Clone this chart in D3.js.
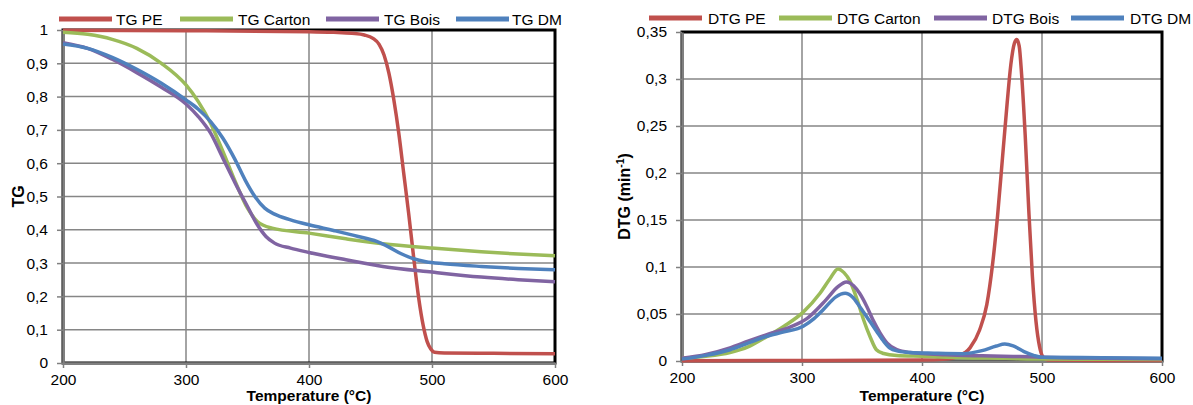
<!DOCTYPE html>
<html><head><meta charset="utf-8">
<script src="https://cdn.jsdelivr.net/npm/d3@7"></script>
<style>body{margin:0;background:#fff}svg{display:block}text{font-family:"Liberation Sans",Arial,sans-serif}</style>
</head><body><svg id="c" width="1193" height="405"></svg>
<script>
// ---- data ----
const tgPE = [[200,0.999],[300,0.998],[400,0.995],[420,0.993],[435,0.99],[445,0.985],[452,0.975],[457,0.957],[461,0.925],[465,0.87],[469,0.79],[473,0.69],[477,0.57],[481,0.45],[485,0.32],[489,0.20],[493,0.11],[496,0.065],[499,0.042],[502,0.032],[510,0.03],[550,0.029],[600,0.028]];
const tgCarton = [[200,0.993],[220,0.987],[240,0.972],[260,0.945],[280,0.90],[300,0.835],[310,0.785],[320,0.72],[330,0.635],[340,0.545],[350,0.465],[358,0.425],[370,0.405],[400,0.39],[430,0.373],[460,0.358],[500,0.345],[540,0.334],[570,0.327],[600,0.322]];
const tgBois = [[200,0.962],[220,0.945],[240,0.912],[260,0.872],[280,0.828],[300,0.778],[310,0.74],[320,0.69],[330,0.615],[340,0.54],[350,0.47],[358,0.415],[365,0.38],[372,0.36],[385,0.345],[400,0.332],[430,0.31],[460,0.29],[500,0.273],[540,0.258],[570,0.25],[600,0.244]];
const tgDM = [[200,0.958],[220,0.945],[240,0.918],[260,0.882],[280,0.84],[300,0.79],[310,0.762],[320,0.725],[330,0.675],[340,0.61],[348,0.55],[356,0.5],[364,0.465],[372,0.447],[385,0.43],[400,0.415],[420,0.398],[440,0.38],[455,0.365],[465,0.348],[475,0.328],[485,0.313],[495,0.304],[510,0.298],[540,0.29],[570,0.284],[600,0.28]];

const dtgPE = [[200,0.0003],[300,0.0005],[400,0.001],[420,0.002],[430,0.005],[440,0.014],[448,0.033],[454,0.06],[459,0.105],[463,0.155],[467,0.215],[471,0.275],[474,0.315],[477,0.338],[479,0.342],[481,0.335],[483,0.305],[486,0.24],[489,0.16],[492,0.09],[495,0.042],[498,0.015],[501,0.004],[505,0.001],[550,0.0005],[600,0.0005]];
const dtgCarton = [[200,0.003],[220,0.005],[240,0.009],[255,0.015],[268,0.024],[285,0.037],[301,0.052],[315,0.072],[323,0.087],[330,0.098],[335,0.094],[340,0.085],[346,0.065],[351,0.045],[357,0.025],[362,0.012],[368,0.008],[379,0.0058],[400,0.005],[434,0.0035],[470,0.0028],[500,0.002],[550,0.0018],[600,0.0015]];
const dtgBois = [[200,0.003],[220,0.007],[240,0.014],[255,0.021],[273,0.029],[290,0.036],[304,0.045],[320,0.065],[330,0.079],[337,0.084],[343,0.08],[348,0.072],[354,0.058],[359,0.044],[365,0.03],[371,0.019],[379,0.012],[390,0.009],[420,0.0066],[450,0.0055],[476,0.0048],[490,0.0045],[500,0.004],[550,0.003],[600,0.0025]];
const dtgDM = [[200,0.002],[220,0.006],[240,0.012],[255,0.019],[270,0.026],[285,0.031],[301,0.037],[310,0.045],[318,0.055],[328,0.068],[336,0.072],[342,0.068],[348,0.058],[355,0.045],[362,0.032],[368,0.021],[373,0.014],[380,0.0105],[390,0.009],[410,0.0083],[434,0.0078],[450,0.011],[462,0.016],[469,0.018],[476,0.016],[485,0.01],[493,0.006],[500,0.004],[550,0.0035],[600,0.003]];

const xTicks = [200,300,400,500,600];
const tgTicks = [0,0.1,0.2,0.3,0.4,0.5,0.6,0.7,0.8,0.9,1];
const dtgTicks = [0,0.05,0.1,0.15,0.2,0.25,0.3,0.35];
const tgNames = ["TG PE","TG Carton","TG Bois","TG DM"];
const dtgNames = ["DTG PE","DTG Carton","DTG Bois","DTG DM"];
const colors = ["#C0504D","#9BBB59","#8064A2","#4F81BD"];

const svg = d3.select("#c");
const fmt = v => String(+v.toFixed(2)).replace(".", ",");

function panel(o){
  const x = d3.scaleLinear().domain([200,600]).range([o.x0,o.x1]);
  const y = d3.scaleLinear().domain(o.ydom).range([o.y1,o.y0]);
  const g = svg.append("g");
  g.selectAll(".vg").data(xTicks.slice(1,-1)).join("line")
    .attr("x1",d=>x(d)).attr("x2",d=>x(d)).attr("y1",o.y0).attr("y2",o.y1)
    .attr("stroke","#868686").attr("stroke-width",1.5);
  g.selectAll(".hg").data(o.yticks.slice(1,-1)).join("line")
    .attr("x1",o.x0).attr("x2",o.x1).attr("y1",d=>y(d)).attr("y2",d=>y(d))
    .attr("stroke","#868686").attr("stroke-width",1.5);
  g.append("rect").attr("x",o.x0).attr("y",o.y0).attr("width",o.x1-o.x0).attr("height",o.y1-o.y0)
    .attr("fill","none").attr("stroke","#000").attr("stroke-width",3);
  const ax = g.append("g").attr("transform",`translate(0,${o.y1})`)
    .call(d3.axisBottom(x).tickValues(xTicks).tickSize(5).tickSizeOuter(0).tickPadding(6).tickFormat(d3.format("d")));
  const ay = g.append("g").attr("transform",`translate(${o.x0},0)`)
    .call(d3.axisLeft(y).tickValues(o.yticks).tickSize(6).tickSizeOuter(0).tickPadding(9).tickFormat(fmt));
  [ax,ay].forEach(a=>{
    a.select(".domain").attr("stroke","#808080").attr("stroke-width",2.5);
    a.selectAll(".tick line").attr("stroke","#808080").attr("stroke-width",1.5);
    a.selectAll(".tick text").attr("fill","#000").style("font-size","15.5px").style("font-family","'Liberation Sans',Arial,sans-serif");
  });
  const line = d3.line().x(d=>x(d[0])).y(d=>y(d[1])).curve(d3.curveMonotoneX);
  o.series.forEach((s,i)=>{
    g.append("path").datum(s).attr("d",line).attr("fill","none")
      .attr("stroke",colors[i]).attr("stroke-width",3.5).attr("stroke-linejoin","round");
  });
  g.append("text").attr("x",(o.x0+o.x1)/2).attr("y",401).attr("text-anchor","middle")
    .style("font-size","15.5px").style("font-weight","bold").text("Temperature (°C)");
  const yt = g.append("text").attr("transform",`translate(${o.ytx},${(o.y0+o.y1)/2}) rotate(-90)`)
    .attr("text-anchor","middle").style("font-size","16px").style("font-weight","bold");
  o.ytitle(yt);
  o.names.forEach((n,i)=>{
    g.append("line").attr("x1",o.leg[i][0]).attr("x2",o.leg[i][0]+53).attr("y1",o.ly).attr("y2",o.ly)
      .attr("stroke",colors[i]).attr("stroke-width",5);
    g.append("text").attr("x",o.leg[i][1]).attr("y",o.ly+5.5).style("font-size","15.5px").text(n);
  });
}

panel({x0:63,x1:555,y0:30,y1:363,ydom:[0,1],yticks:tgTicks,series:[tgPE,tgCarton,tgBois,tgDM],
  names:tgNames,ly:19,leg:[[59,116],[180,238],[326,384],[456,512]],ytx:24,
  ytitle:t=>t.text("TG")});
panel({x0:682,x1:1162,y0:32,y1:361,ydom:[0,0.35],yticks:dtgTicks,series:[dtgPE,dtgCarton,dtgBois,dtgDM],
  names:dtgNames,ly:18,leg:[[649,708],[779,837],[934,992],[1071,1130]],ytx:630,
  ytitle:t=>{t.append("tspan").text("DTG (min");t.append("tspan").attr("dy",-6).style("font-size","10.5px").text("-1");t.append("tspan").attr("dy",6).text(")");}});
</script></body></html>
